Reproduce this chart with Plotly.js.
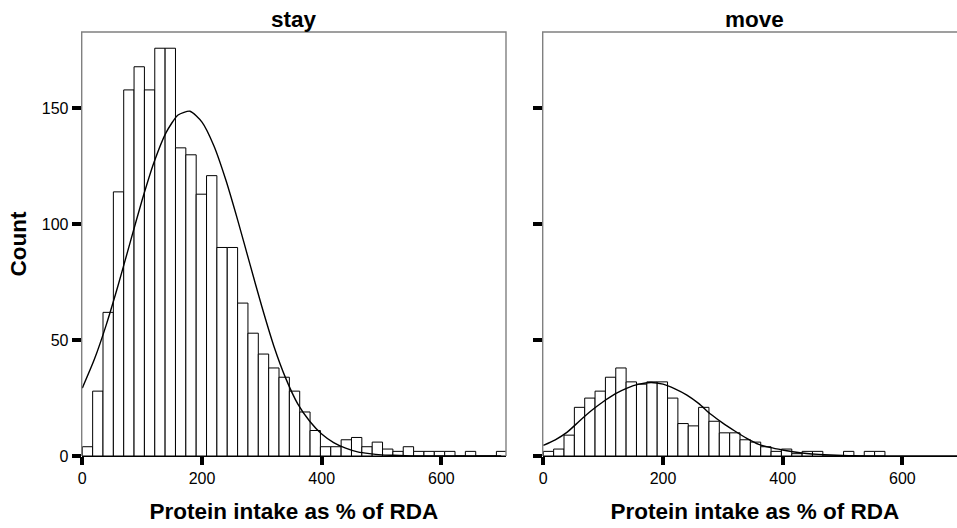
<!DOCTYPE html>
<html><head><meta charset="utf-8">
<script src="https://cdn.plot.ly/plotly-3.0.1.min.js"></script>
<style>html,body{margin:0;padding:0;overflow:hidden;background:#fff}#chart{width:970px;height:528px}</style>
</head><body><div id="chart"></div>
<script>
// ---- data ----
const panelTitles = ["stay", "move"];
const xTitle = "Protein intake as % of RDA";
const yTitle = "Count";
const binStart = 0;
const binWidth = 17.3;
const stayCounts = [4,28,62,114,158,168,158,176,176,133,130,113,121,90,90,66,53,44,38,34,28,19,11,4,4,7,8,4,6,3,2,4,2,2,2,2,0,2,0,0,2];
const moveCounts = [2,3,9,21,25,28,34,38,32,31,32,32,25,14,13,21,15,10,10,7,6,4,2,3,1,2,2,0,0,2,0,2,2];
const curveX = [0,20,40,60,80,100,120,140,160,180,200,220,240,260,280,300,320,340,360,380,400,420,440,460,480,500,520,540,560,580,600,620,640,660,680,700];
const stayCurve = [29.3,41.6,56.6,73.8,92.2,110.5,126.9,139.6,147.2,148.8,144.1,133.8,119.0,101.5,82.9,64.5,47.5,33.5,22.5,15.0,9.5,5.8,3.4,1.8,1.0,0.5,0.3,0.1,0,0,0,0,0,0,0,0];
const moveCurve = [4.6,7.0,10.3,15.0,19.5,23.4,26.8,29.3,31.0,31.7,31.0,29.0,26.3,22.6,18.0,14.2,10.8,7.6,5.0,3.6,2.6,1.7,1.1,0.7,0.4,0.2,0.1,0,0,0,0,0,0,0,0,0];
const xTicks = [0,200,400,600];
const yTicks = [0,50,100,150];

// ---- build ----
const FONT = "Liberation Sans, Arial, sans-serif";
const TITLE_SIZE = 22.5;
const centers = counts => counts.map((_, i) => binStart + (i + 0.5) * binWidth);

function barTrace(counts, xa, ya) {
  return {type:"bar", x:centers(counts), y:counts, width:binWidth, xaxis:xa, yaxis:ya,
    marker:{color:"#ffffff", line:{color:"#000000", width:1}}, hoverinfo:"x+y", showlegend:false};
}
function curveTrace(vals, xa, ya) {
  return {type:"scatter", mode:"lines", x:curveX, y:vals, xaxis:xa, yaxis:ya,
    line:{color:"#000000", width:1.4, shape:"spline", smoothing:0.6}, showlegend:false};
}
const data = [
  barTrace(stayCounts, "x", "y"), curveTrace(stayCurve, "x", "y"),
  barTrace(moveCounts, "x2", "y2"), curveTrace(moveCurve, "x2", "y2")
];

const W = 970, H = 528;
const yDom = [72/H, 496/H];
function xAxis(dom, anchor) {
  return {domain:dom, anchor:anchor, range:[-1,708], tickvals:xTicks, ticktext:xTicks.map(String),
    ticks:"outside", ticklen:8, tickwidth:4, tickcolor:"#000",
    showline:true, linecolor:"#000", linewidth:1, showgrid:false, zeroline:false,
    tickfont:{family:FONT, size:16, color:"#000"},
    title:{text:"<b>"+xTitle+"</b>", font:{family:FONT, size:TITLE_SIZE, color:"#000"}, standoff:17},
    automargin:false, fixedrange:true};
}
function yAxis(anchor, labels) {
  const a = {domain:yDom, anchor:anchor, range:[0,183], tickvals:yTicks, ticktext:yTicks.map(String),
    ticks:"outside", ticklen:9, tickwidth:4, tickcolor:"#000", showticklabels:labels,
    showline:false, showgrid:false, zeroline:false,
    tickfont:{family:FONT, size:16, color:"#000"}, automargin:false, fixedrange:true};
  if (labels) a.title = {text:"<b>"+yTitle+"</b>", font:{family:FONT, size:TITLE_SIZE, color:"#000"}, standoff:8};
  return a;
}
const frameLine = {color:"#808080", width:1.4};
const layout = {
  width:W, height:H, margin:{l:0, r:0, t:0, b:0},
  paper_bgcolor:"#fff", plot_bgcolor:"#fff", bargap:0,
  font:{family:FONT, color:"#000"},
  xaxis: xAxis([81.7/W, 506/W], "y"),
  yaxis: yAxis("x", true),
  xaxis2: xAxis([542.7/W, 967/W], "y2"),
  yaxis2: yAxis("x2", false),
  shapes:[
    {type:"path", xref:"x domain", yref:"y domain", path:"M0,0 L0,1 L1,1 L1,0", line:frameLine, layer:"above"},
    {type:"path", xref:"x2 domain", yref:"y2 domain", path:"M0,0 L0,1 L1,1 L1,0", line:frameLine, layer:"above"}
  ],
  annotations: panelTitles.map((t, i) => ({
    text:"<b>"+t+"</b>", xref:(i===0?"x":"x2")+" domain", x:0.5, xanchor:"center",
    yref:"paper", y:(H-20)/H, yanchor:"middle", showarrow:false,
    font:{family:FONT, size:TITLE_SIZE, color:"#000"}
  }))
};
Plotly.newPlot("chart", data, layout, {displayModeBar:false, staticPlot:true});
</script>
</body></html>
